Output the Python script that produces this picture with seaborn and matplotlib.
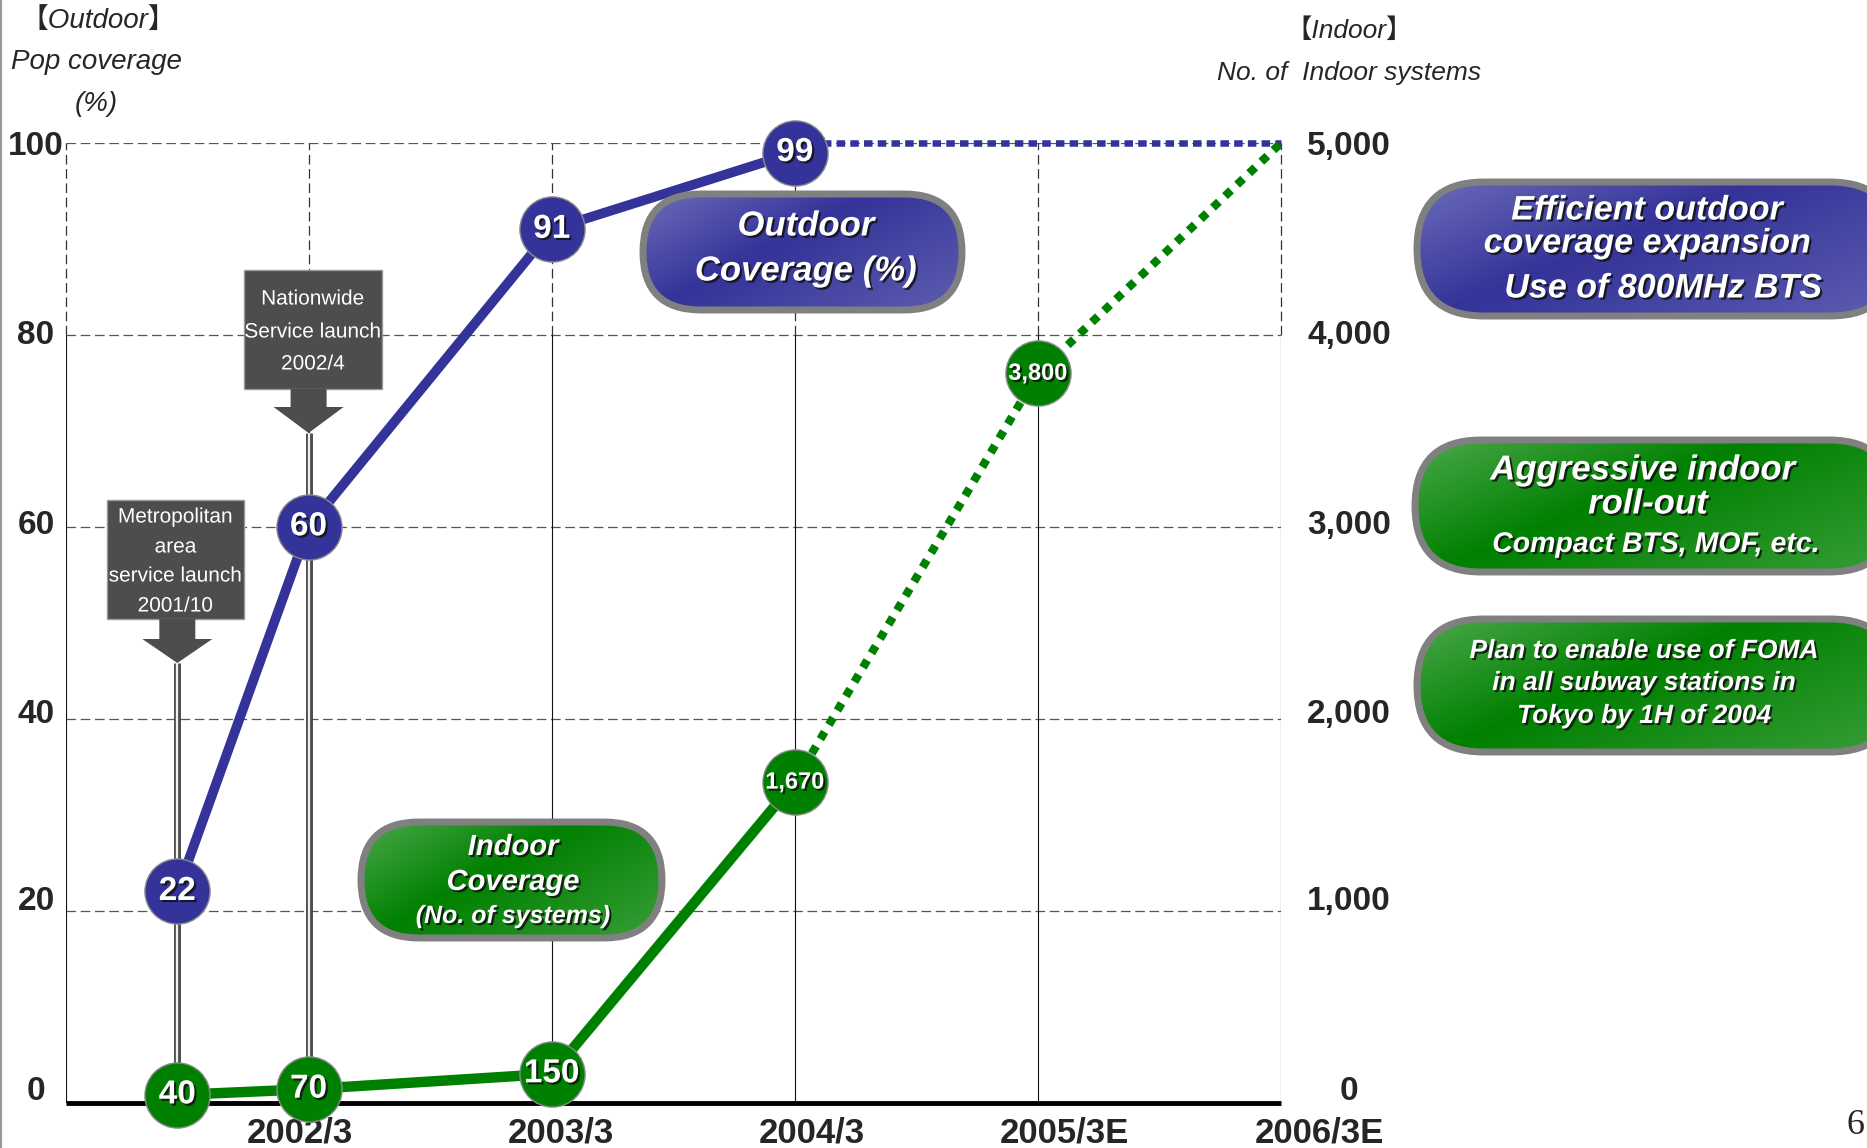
import numpy as np
import matplotlib
matplotlib.use("Agg")
import matplotlib.pyplot as plt
import matplotlib.patheffects as pe
from matplotlib.patches import FancyBboxPatch, Rectangle, Polygon
import seaborn as sns

# ---- data ----
period_labels = ["2002/3", "2003/3", "2004/3", "2005/3E", "2006/3E"]
period_x = [1, 2, 3, 4, 5]

# outdoor population coverage (%)
outdoor_x = [0.46, 1.0, 2.0, 3.0]
outdoor_pct = [22, 60, 91, 99]
outdoor_est_x = [3.0, 4.0, 5.0]
outdoor_est_pct = [100, 100, 100]

# number of indoor systems
indoor_x = [0.46, 1.0, 2.0, 3.0]
indoor_n = [40, 70, 150, 1670]
indoor_est_x = [3.0, 4.0, 5.0]
indoor_est_n = [1670, 3800, 5000]
indoor_label_x = [0.46, 1.0, 2.0, 3.0, 4.0]
indoor_label_n = [40, 70, 150, 1670, 3800]

left_ticks = [0, 20, 40, 60, 80, 100]
right_ticks = [0, 1000, 2000, 3000, 4000, 5000]

milestone_x = [0.46, 1.0]
milestone_text = [["Metropolitan", "area", "service launch", "2001/10"],
                  ["Nationwide", "Service launch", "2002/4"]]

BLUE = "#333399"
BLUE_LIGHT = "#6c6cb9"
GREEN = "#008000"
GREEN_LIGHT = "#4ba84b"
GREY = "#4d4d4d"

sns.set_style("white")
plt.rcParams["font.family"] = ["Liberation Sans", "DejaVu Sans"]
CJK = ["Liberation Sans", "Noto Sans CJK JP", "DejaVu Sans"]
shadow = [pe.withSimplePatchShadow(offset=(1.5, -1.5), shadow_rgbFace="#111111", alpha=0.85)]

W, H = 1867, 1148
fig = plt.figure(figsize=(W / 100, H / 100), dpi=100)
ax = fig.add_axes([65.5 / W, (H - 1102.6) / H, 1215.5 / W, 959.6 / H])
ax2 = ax.twinx()
ax.set_xlim(0, 5)
ax.set_ylim(0, 100)
ax2.set_ylim(0, 5000)
for a in (ax, ax2):
    for s in a.spines.values():
        s.set_visible(False)
ax.set_xticks([])

# grid
ax.hlines(left_ticks[1:], 0, 5, colors="#555555", linewidth=0.9,
          linestyles=[(0, (7.7, 3.7))], zorder=1)
for gx in range(6):
    ax.vlines(gx, 80, 100, colors="#333333", linewidth=0.9,
              linestyles=[(0, (7.7, 3.7))], zorder=1, clip_on=False)
    ax.vlines(gx, 0, 80, colors="#111111", linewidth=0.8, zorder=1)
ax.hlines(0, 0, 5, colors="black", linewidth=3.5, zorder=3, clip_on=False)

# outdoor series
sns.lineplot(x=outdoor_x, y=outdoor_pct, ax=ax, color=BLUE, lw=7, zorder=4,
             clip_on=False, sort=False)
sns.lineplot(x=outdoor_est_x, y=outdoor_est_pct, ax=ax, color=BLUE, lw=4.7,
             linestyle=(0, (1.3, 0.8)), zorder=4, clip_on=False, sort=False)
sns.scatterplot(x=outdoor_x, y=outdoor_pct, ax=ax, s=2200, color=BLUE,
                edgecolor="#8a8a8a", linewidth=1, zorder=5, clip_on=False, legend=False)
for x, v in zip(outdoor_x, outdoor_pct):
    ax.text(x, v, f"{v}", ha="center", va="center", color="white", fontsize=24,
            fontweight="bold", path_effects=shadow, zorder=6, clip_on=False)

# indoor series
sns.lineplot(x=indoor_x, y=indoor_n, ax=ax2, color=GREEN, lw=7.5, zorder=4,
             clip_on=False, sort=False)
sns.lineplot(x=indoor_est_x, y=indoor_est_n, ax=ax2, color=GREEN, lw=6,
             linestyle=(0, (1, 1)), zorder=4, clip_on=False, sort=False)
sns.scatterplot(x=indoor_label_x, y=indoor_label_n, ax=ax2, s=2200, color=GREEN,
                edgecolor="#8a8a8a", linewidth=1, zorder=5, clip_on=False, legend=False)
for x, v in zip(indoor_label_x, indoor_label_n):
    ax2.text(x, v, f"{v:,}", ha="center", va="center", color="white",
             fontsize=24 if v < 1000 else 17, fontweight="bold",
             path_effects=shadow, zorder=6, clip_on=False)

ax.set_xlim(0, 5)
ax.set_ylim(0, 100)
ax2.set_ylim(0, 5000)

# axis tick labels (the slide's labels sit a little above their gridlines)
label_lift = [1.5, 1.3, 0.8, 0.5, 0.3, 0.0]
ax.set_yticks([t + d for t, d in zip(left_ticks, label_lift)])
ax.set_yticklabels([str(t) for t in left_ticks], fontsize=24, fontweight="bold")
ax.tick_params(axis="y", length=0, pad=21.2)
for t in ax.get_yticklabels():
    t.set_ha("center")
ax2.set_yticks([t + d * 50 for t, d in zip(right_ticks, label_lift)])
ax2.set_yticklabels([f"{t:,}" for t in right_ticks], fontsize=24, fontweight="bold")
ax2.tick_params(axis="y", length=0, pad=49)
for t in ax2.get_yticklabels():
    t.set_ha("center")
ax.set_ylabel("")
ax2.set_ylabel("")

label_shift = [-0.035, 0.037, 0.07, 0.11, 0.157]
for px, sh, lab in zip(period_x, label_shift, period_labels):
    ax.annotate(lab, (px + sh, 0), xytext=(0, -22), textcoords="offset points",
                ha="center", va="center", fontsize=25, fontweight="bold",
                annotation_clip=False)

# overlay in pixel coordinates for callouts and pills
ov = fig.add_axes([0, 0, 1, 1], zorder=3)
ov.set_axis_off()
ov.patch.set_visible(False)


def pill(x0, y0, w, h, dark, light):
    patch = FancyBboxPatch((x0, y0), w, h, boxstyle=f"round,pad=0,rounding_size={h / 2}",
                           facecolor="none", edgecolor="#808080", linewidth=5, zorder=2)
    ov.add_patch(patch)
    u, v = np.meshgrid(np.linspace(0, 1, 240), np.linspace(0, 1, 80))
    t = 0.6 * u + 0.4 * v
    wgt = np.where(t < 0.42, (0.42 - t) / 0.42, (t - 0.42) / 0.58 * 0.75)
    c0 = np.array(matplotlib.colors.to_rgb(dark))
    c1 = np.array(matplotlib.colors.to_rgb(light))
    img = c0 + (c1 - c0) * wgt[..., None]
    im = ov.imshow(img, extent=[x0, x0 + w, y0 + h, y0], origin="upper",
                   aspect="auto", zorder=1.9, interpolation="bilinear")
    im.set_clip_path(patch)


def say(x, y, s, size, **kw):
    ov.text(x, y, s, ha="center", va="center", color="white", fontsize=size,
            fontweight="bold", fontstyle="italic", path_effects=shadow, zorder=4, **kw)


pill(643, 194, 319, 116, BLUE, BLUE_LIGHT)
say(806, 226, "Outdoor", 25)
say(806, 271, "Coverage (%)", 25)

pill(361, 822, 301, 116, GREEN, GREEN_LIGHT)
say(513, 847, "Indoor", 21)
say(513, 882, "Coverage", 21)
say(513, 916, "(No. of systems)", 18)

pill(1417, 182, 480, 134, BLUE, BLUE_LIGHT)
say(1647, 211, "Efficient outdoor", 24.5)
say(1647, 244, "coverage expansion", 24.5)
say(1663, 289, "Use of 800MHz BTS", 24.5)

pill(1415, 440, 480, 132, GREEN, GREEN_LIGHT)
say(1643, 470, "Aggressive indoor", 25)
say(1648, 504, "roll-out", 25)
say(1656, 545, "Compact BTS, MOF, etc.", 20.5)

pill(1417, 619, 480, 133, GREEN, GREEN_LIGHT)
say(1644, 651, "Plan to enable use of FOMA", 19)
say(1644, 683, "in all subway stations in", 19)
say(1644, 716, "Tokyo by 1H of 2004", 19)

# milestone callouts
boxes = [(107, 500, 137, 119, 619, 639, 663, [517, 547, 576, 606]),
         (244, 270, 138, 119, 389, 407, 433, [299, 332, 364])]
for mx, lines, (bx, by, bw, bh, yb, yh, tip, ly) in zip(milestone_x, milestone_text, boxes):
    c = ax.transData.transform((mx, 0))[0]
    top = ax.transData.inverted().transform((c, H - tip))[1]
    ax.vlines(mx, 0, top, colors=GREY, linewidth=5, zorder=2)
    ax.vlines(mx, 0, top, colors="#f0f0f0", linewidth=1.6, zorder=2.1)
    ov.add_patch(Rectangle((bx, by), bw, bh, facecolor=GREY, edgecolor="#999999",
                           linewidth=1, zorder=2))
    ov.add_patch(Polygon([(c - 18, yb), (c + 18, yb), (c + 18, yh), (c + 35, yh),
                          (c, tip), (c - 35, yh), (c - 18, yh)],
                         closed=True, facecolor=GREY, edgecolor="none", zorder=2))
    for yy, s in zip(ly, lines):
        ov.text(bx + bw / 2, yy, s, ha="center", va="center", color="white",
                fontsize=15, zorder=4,
                path_effects=[pe.withSimplePatchShadow(offset=(1, -1), alpha=0.6)])

# axis titles
ov.text(98, 21, "【Outdoor】", ha="center", va="center", fontsize=20,
        fontstyle="italic", family=CJK)
ov.text(96, 62, "Pop coverage", ha="center", va="center", fontsize=20, fontstyle="italic")
ov.text(96, 104, "(%)", ha="center", va="center", fontsize=20, fontstyle="italic")
ov.text(1349, 31, "【Indoor】", ha="center", va="center", fontsize=19,
        fontstyle="italic", family=CJK)
ov.text(1349, 73, "No. of  Indoor systems", ha="center", va="center", fontsize=19,
        fontstyle="italic")

ov.text(1855, 1125, "6", ha="center", va="center", fontsize=26, family=["Liberation Serif"])
ov.plot([1, 1], [0, H], color="#999999", lw=1.5)

ov.set_xlim(0, W)
ov.set_ylim(H, 0)

fig.savefig("out.png", dpi=100)
